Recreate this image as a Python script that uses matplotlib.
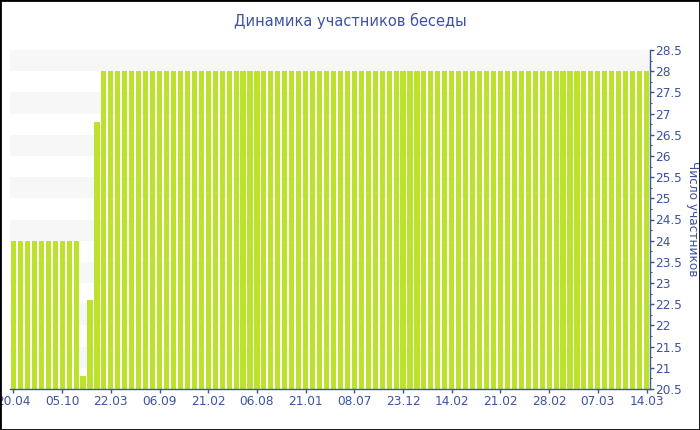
import matplotlib
matplotlib.use("Agg")
import matplotlib.pyplot as plt
import numpy as np
from matplotlib.ticker import MultipleLocator

# data
values = [24] * 10 + [20.8, 22.6, 26.8] + [28] * 79
tick_labels = ["20.04", "05.10", "22.03", "06.09", "21.02", "06.08", "21.01",
               "08.07", "23.12", "14.02", "21.02", "28.02", "07.03", "14.03"]
tick_step = 7

BLUE = "#3d52a1"
BAR = "#bde22e"

plt.rcParams["font.family"] = ["DejaVu Sans"]

fig = plt.figure(figsize=(7.0, 4.3), dpi=100)
ax = fig.add_axes([10 / 700, 41 / 430, 640 / 700, 339 / 430])

x = np.arange(len(values))
y0 = 20.5
ax.bar(x, np.array(values) - y0, bottom=y0, width=0.74, color=BAR, zorder=2)

# alternating bands
for n in range(21, 29):
    ax.axhspan(n, n + 0.5, color="#f7f7f7", zorder=0, lw=0)

ax.set_xlim(-0.5, len(values) - 0.5)
ax.set_ylim(20.5, 28.5)

ticks = np.arange(0, len(tick_labels) * tick_step, tick_step)
ax.set_xticks(ticks)
ax.set_xticklabels(tick_labels)

ax.yaxis.tick_right()
ax.yaxis.set_major_locator(MultipleLocator(0.5))
ax.yaxis.set_minor_locator(MultipleLocator(0.25))
ax.yaxis.set_major_formatter(plt.FuncFormatter(lambda v, p: f"{v:g}"))

for s in ("top", "left"):
    ax.spines[s].set_visible(False)
for s in ("bottom", "right"):
    ax.spines[s].set_color(BLUE)
    ax.spines[s].set_linewidth(1.0)

ax.tick_params(axis="both", colors=BLUE, labelsize=8.7, length=3, width=1, pad=1)
ax.tick_params(axis="y", which="minor", colors=BLUE, length=1.5, width=0.8)

# y-axis title on the far right
fig.text(692 / 700, (430 - 219) / 430, "Число участников", color=BLUE, fontsize=8.7,
         rotation=270, ha="center", va="center")

fig.suptitle("Динамика участников беседы", color=BLUE, fontsize=10.5, y=0.97)

# figure frame
fig.patches.append(plt.Rectangle((0, 0), 1, 1, transform=fig.transFigure,
                                 fill=False, edgecolor="black", lw=2))

fig.savefig("out.png", dpi=100)
